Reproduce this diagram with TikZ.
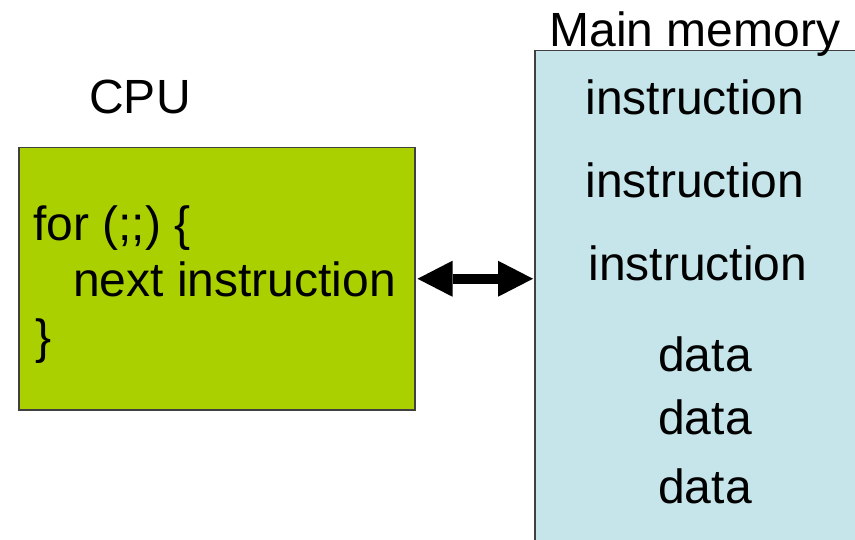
\documentclass[tikz,border=0pt]{standalone}
\usepackage{tikz}
\usepackage{fontspec}
\setmainfont{Liberation Sans}
\usepackage{xcolor}
\definecolor{cpugreen}{RGB}{170,208,0}
\definecolor{memblue}{RGB}{198,229,234}
\usetikzlibrary{arrows.meta}
\usetikzlibrary{calc}

\begin{document}
\begin{tikzpicture}[x=1pt,y=-1pt,
  box/.style={draw=black!75, line width=1.5pt},
  txt/.style={font=\fontsize{48}{58}\selectfont, inner sep=0pt, anchor=base}]
\useasboundingbox (0,0) rectangle (855,540);
\clip (0,0) rectangle (855,540);

% CPU
  \node[box, fill=cpugreen, minimum width=396pt, minimum height=262pt, anchor=north west] (cpu) at (18,147) {};
  \node[txt] (cpulabel) at (140,114) {CPU};
    \node[txt, anchor=base west] (loop) at (33,241) {for (;;) \{};
    \node[txt, anchor=base west] (next) at (73,297) {next instruction};
    \node[txt, anchor=base west] (close) at (35,353) {\}};

% Main memory
  \node[box, fill=memblue, minimum width=340pt, minimum height=520pt, anchor=north west] (mem) at (534,50) {};
  \node[txt] (memlabel) at (695,47) {Main memory};
    \foreach \x/\y/\n in {695/115/ins1, 695/198/ins2, 698/281/ins3}
      \node[txt] (\n) at (\x,\y) {instruction};
    \foreach \x/\y/\n in {705/372/dat1, 705/434/dat2, 705/503/dat3}
      \node[txt] (\n) at (\x,\y) {data};

% bus
\draw[{Triangle[length=35pt,width=36pt,line width=0pt]}-{Triangle[length=35pt,width=36pt,line width=0pt]}, line width=10pt, shorten <=2pt, shorten >=1pt] (cpu.east) -- (cpu.east -| mem.west);

\end{tikzpicture}
\end{document}
